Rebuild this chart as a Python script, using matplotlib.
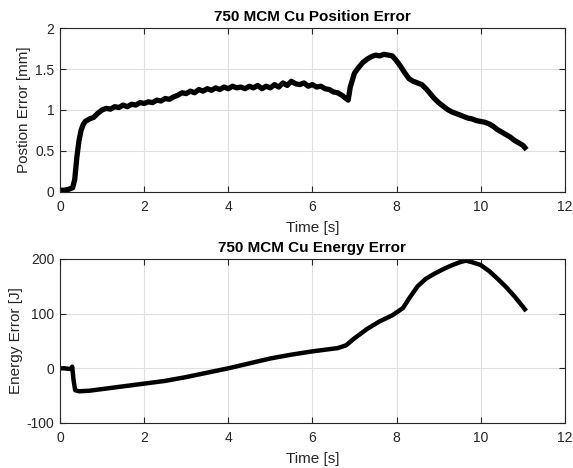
import matplotlib
matplotlib.use("Agg")
import matplotlib.pyplot as plt
import numpy as np

# position error [mm] vs time [s]
t_pos = [0.0, 0.1, 0.2, 0.3, 0.35, 0.4, 0.45, 0.5, 0.55, 0.6, 0.7, 0.8, 0.9,
         1.0, 1.1, 1.2, 1.3, 1.4, 1.5, 1.6, 1.7, 1.8, 1.9, 2.0, 2.1, 2.2, 2.3,
         2.4, 2.5, 2.6, 2.7, 2.8, 2.9, 3.0, 3.1, 3.2, 3.3, 3.4, 3.5, 3.6, 3.7,
         3.8, 3.9, 4.0, 4.1, 4.2, 4.3, 4.4, 4.5, 4.6, 4.7, 4.8, 4.9, 5.0, 5.1,
         5.2, 5.3, 5.4, 5.5, 5.6, 5.7, 5.8, 5.9, 6.0, 6.1, 6.2, 6.3, 6.4, 6.5,
         6.6, 6.7, 6.8, 6.85, 6.9, 7.0, 7.1, 7.2, 7.3, 7.4, 7.5, 7.6, 7.7, 7.8,
         7.9, 8.0, 8.1, 8.2, 8.3, 8.4, 8.5, 8.6, 8.7, 8.8, 8.9, 9.0, 9.1, 9.2,
         9.3, 9.4, 9.5, 9.6, 9.7, 9.8, 9.9, 10.0, 10.1, 10.2, 10.3, 10.4, 10.5,
         10.6, 10.7, 10.8, 10.9, 11.0, 11.05]
pos_err = [0.02, 0.02, 0.03, 0.05, 0.15, 0.42, 0.62, 0.75, 0.82, 0.86, 0.89, 0.91, 0.96,
           1.00, 1.02, 1.01, 1.04, 1.03, 1.06, 1.04, 1.07, 1.06, 1.09, 1.08, 1.10, 1.09, 1.12,
           1.11, 1.14, 1.13, 1.16, 1.18, 1.21, 1.20, 1.23, 1.21, 1.25, 1.23, 1.26, 1.24, 1.27,
           1.25, 1.28, 1.26, 1.29, 1.27, 1.28, 1.26, 1.29, 1.27, 1.30, 1.26, 1.29, 1.27, 1.31,
           1.28, 1.33, 1.30, 1.35, 1.32, 1.31, 1.33, 1.29, 1.31, 1.28, 1.29, 1.26, 1.25, 1.22,
           1.21, 1.18, 1.14, 1.12, 1.28, 1.45, 1.52, 1.58, 1.62, 1.65, 1.67, 1.66, 1.68, 1.67,
           1.66, 1.60, 1.53, 1.45, 1.38, 1.35, 1.33, 1.31, 1.26, 1.20, 1.14, 1.09, 1.05, 1.01,
           0.98, 0.96, 0.94, 0.92, 0.90, 0.89, 0.87, 0.86, 0.85, 0.83, 0.80, 0.76, 0.73,
           0.70, 0.67, 0.63, 0.60, 0.57, 0.54]

# energy error [J] vs time [s]
t_en = [0.0, 0.1, 0.2, 0.27, 0.29, 0.32, 0.36, 0.45, 0.7, 1.0, 1.5, 2.0, 2.5, 3.0,
        3.5, 4.0, 4.5, 5.0, 5.5, 6.0, 6.3, 6.6, 6.8, 7.0, 7.3, 7.6, 7.9, 8.15,
        8.3, 8.5, 8.7, 8.9, 9.1, 9.3, 9.5, 9.65, 9.8, 10.0, 10.2, 10.4, 10.6,
        10.8, 11.0, 11.05]
en_err = [0, 0, -1, -1, 3, -20, -40, -42, -41, -38, -33, -28, -23, -16,
          -8, 0, 9, 18, 25, 31, 34, 37, 42, 55, 72, 86, 97, 110,
          128, 150, 164, 173, 181, 188, 194, 197, 194, 189, 178, 164, 149,
          132, 113, 108]

plt.rcParams["font.family"] = ["Liberation Sans", "DejaVu Sans"]
plt.rcParams["font.size"] = 11
plt.rcParams["axes.unicode_minus"] = False

fig = plt.figure(figsize=(5.73, 4.68), dpi=100)
ax1 = fig.add_axes([0.1047, 0.590, 0.881, 0.350])
ax2 = fig.add_axes([0.1047, 0.0962, 0.881, 0.3504])

def matlab_style(ax):
    ax.grid(True, color="0.88", linewidth=0.8)
    ax.set_axisbelow(True)
    ax.tick_params(direction="in", top=True, right=True, length=4,
                   colors="0.15", labelsize=10)
    ax.tick_params(axis="x", pad=6)
    ax.tick_params(axis="y", pad=4)
    for s in ax.spines.values():
        s.set_color("0.15")
        s.set_linewidth(0.8)
    ax.set_xlim(0, 12)
    ax.set_xticks([0, 2, 4, 6, 8, 10, 12])
    ax.set_xlabel("Time [s]", color="0.15", labelpad=5)

ax1.plot(t_pos, pos_err, color="black", linewidth=3.8, solid_joinstyle="round")
matlab_style(ax1)
ax1.set_ylim(0, 2)
ax1.set_yticks([0, 0.5, 1, 1.5, 2])
ax1.set_yticklabels(["0", "0.5", "1", "1.5", "2"])
ax1.set_ylabel("Postion Error [mm]", color="0.15", labelpad=3)
ax1.set_title("750 MCM Cu Position Error", fontweight="bold", fontsize=11, pad=5)

ax2.plot(t_en, en_err, color="black", linewidth=3.2)
matlab_style(ax2)
ax2.set_ylim(-100, 200)
ax2.set_yticks([-100, 0, 100, 200])
ax2.set_ylabel("Energy Error [J]", color="0.15", labelpad=3)
ax2.set_title("750 MCM Cu Energy Error", fontweight="bold", fontsize=11, pad=5)

fig.savefig("out.png", dpi=100)
